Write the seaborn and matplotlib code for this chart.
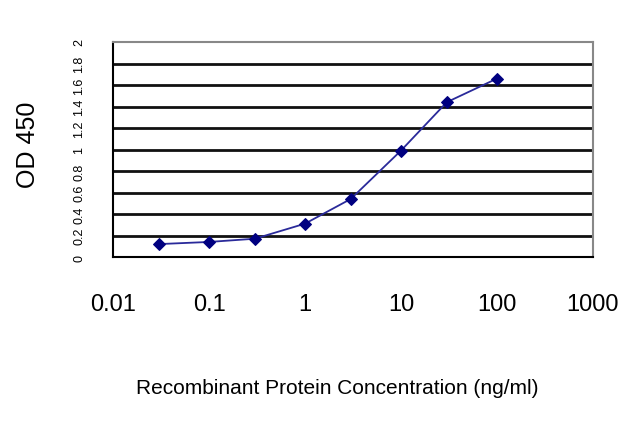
import matplotlib
matplotlib.use("Agg")
import matplotlib.pyplot as plt
import seaborn as sns
import pandas as pd
import numpy as np

concentration = [0.03, 0.1, 0.3, 1, 3, 10, 30, 100]
od450 = [0.12, 0.14, 0.17, 0.31, 0.54, 0.99, 1.44, 1.66]
x_ticks = [0.01, 0.1, 1, 10, 100, 1000]
x_tick_labels = ["0.01", "0.1", "1", "10", "100", "1000"]
y_ticks = [0, 0.2, 0.4, 0.6, 0.8, 1, 1.2, 1.4, 1.6, 1.8, 2]
y_tick_labels = ["0", "0.2", "0.4", "0.6", "0.8", "1", "1.2", "1.4", "1.6", "1.8", "2"]

df = pd.DataFrame({"conc": concentration, "od": od450})

sns.set_style("white")
plt.rcParams["font.family"] = ["Liberation Sans", "DejaVu Sans"]
plt.rcParams["text.color"] = "black"
plt.rcParams["axes.labelcolor"] = "black"
plt.rcParams["xtick.color"] = "black"
plt.rcParams["ytick.color"] = "black"

fig = plt.figure(figsize=(6.4, 4.27), dpi=100)
ax = fig.add_axes([113/640, 1-258/427, (593-113)/640, (258-43)/427])

ax.set_xscale("log")
ax.set_xlim(0.01, 1000)
ax.set_ylim(0, 2)

for yv in y_ticks[1:-1]:
    ax.axhline(yv, color="#111111", lw=2.0, zorder=1)

sns.lineplot(data=df, x="conc", y="od", ax=ax, color="#2a2a9a", lw=1.3,
             marker="D", markersize=6, markeredgecolor="#000080",
             markerfacecolor="#000080", zorder=3)

ax.set_xticks(x_ticks)
ax.set_xticklabels(x_tick_labels, fontsize=17)
ax.minorticks_off()
ax.set_yticks(y_ticks)
ax.set_yticklabels(y_tick_labels, fontsize=9, rotation=90, va="center")
ax.tick_params(axis="x", direction="inout", length=6, width=1, color="black", pad=23)
ax.tick_params(axis="y", length=0, pad=20)

for s in ["top", "right"]:
    ax.spines[s].set_color("#888888")
    ax.spines[s].set_linewidth(1.5)
for s in ["left", "bottom"]:
    ax.spines[s].set_color("black")
    ax.spines[s].set_linewidth(1.5)

ax.set_xlabel("Recombinant Protein Concentration (ng/ml)", fontsize=15)
ax.xaxis.set_label_coords((337-113)/480, (258-389)/215)
ax.xaxis.label.set_va("center")
ax.set_ylabel("OD 450", fontsize=18)
ax.yaxis.set_label_coords((28-113)/480, (258-145)/215)
ax.yaxis.label.set_va("center")

fig.savefig("out.png", dpi=100, facecolor="white")
